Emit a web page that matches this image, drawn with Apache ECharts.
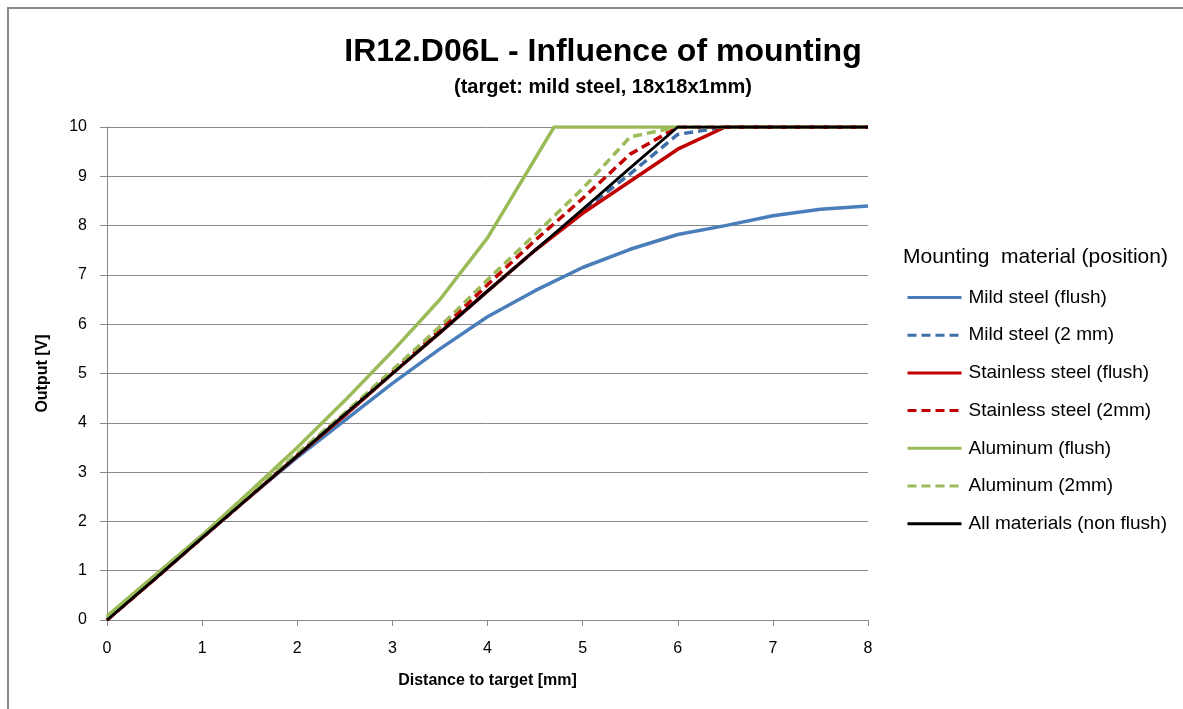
<!DOCTYPE html>
<html>
<head>
<meta charset="utf-8">
<script src="https://cdn.jsdelivr.net/npm/echarts@6/dist/echarts.min.js"></script>
<style>
  html, body { margin: 0; padding: 0; background: #fff; }
  #container { width: 1183px; height: 709px; }
</style>
</head>
<body>
<div id="container"></div>
<script>
// distances [mm]
var distances = [0, 0.5, 1, 1.5, 2, 2.5, 3, 3.5, 4, 4.5, 5, 5.5, 6, 6.5, 7, 7.5, 8];

var mildFlush      = [0.05, 0.85, 1.67, 2.5, 3.3, 4.05, 4.8, 5.5, 6.15, 6.68, 7.15, 7.52, 7.82, 8.0, 8.2, 8.33, 8.4];
var mild2mm        = [0, 0.83, 1.67, 2.5, 3.33, 4.15, 5.0, 5.83, 6.67, 7.5, 8.3, 9.05, 9.85, 10, 10, 10, 10];
var stainlessFlush = [0, 0.83, 1.67, 2.5, 3.33, 4.15, 5.0, 5.83, 6.67, 7.5, 8.25, 8.9, 9.55, 10, 10, 10, 10];
var stainless2mm   = [0, 0.83, 1.67, 2.5, 3.35, 4.18, 5.03, 5.88, 6.8, 7.7, 8.55, 9.45, 10, 10, 10, 10, 10];
var alu2mm         = [0.05, 0.85, 1.7, 2.53, 3.38, 4.2, 5.07, 5.95, 6.9, 7.82, 8.75, 9.8, 10, 10, 10, 10, 10];
var allNonFlush    = [0, 0.83, 1.67, 2.5, 3.33, 4.17, 5.0, 5.83, 6.67, 7.5, 8.33, 9.17, 10, 10, 10, 10, 10];

// aluminum flush saturates between sample points
var aluFlushX = [0, 0.5, 1, 1.5, 2, 2.5, 3, 3.5, 4, 4.7, 5, 5.5, 6];
var aluFlushY = [0.08, 0.9, 1.72, 2.6, 3.5, 4.45, 5.45, 6.5, 7.75, 10, 10, 10, 10];

function pairs(xs, ys) {
  return xs.map(function (x, i) { return [x, ys[i]]; });
}

var font = 'Liberation Sans';

function mkSeries(name, xs, ys, color, dashed, width) {
  return {
    name: name,
    type: 'line',
    data: pairs(xs, ys),
    symbol: 'none',
    smooth: false,
    lineStyle: { color: color, width: width || 3.5, type: dashed ? [9, 5] : 'solid' },
    itemStyle: { color: color }
  };
}

var series = [
  mkSeries('Mild steel (flush)', distances, mildFlush, '#4a7ebb', false),
  mkSeries('Mild steel (2 mm)', distances, mild2mm, '#3e6fa8', true),
  mkSeries('Stainless steel (flush)', distances, stainlessFlush, '#c00000', false),
  mkSeries('Stainless steel (2mm)', distances, stainless2mm, '#c00000', true),
  mkSeries('Aluminum (flush)', aluFlushX, aluFlushY, '#9bbb59', false),
  mkSeries('Aluminum (2mm)', distances, alu2mm, '#9bbb59', true),
  mkSeries('All materials (non flush)', distances, allNonFlush, '#000000', false, 2.8)
];

var myChart = echarts.init(document.getElementById('container'), null, { renderer: 'canvas' });

var option = {
  animation: false,
  backgroundColor: '#fff',
  title: {
    text: 'IR12.D06L - Influence of mounting',
    subtext: '(target: mild steel, 18x18x1mm)',
    left: 598,
    textAlign: 'center',
    top: 31,
    itemGap: 9,
    textStyle: { fontFamily: font, fontWeight: 'bold', fontSize: 32, color: '#000' },
    subtextStyle: { fontFamily: font, fontWeight: 'bold', fontSize: 20, color: '#000' }
  },
  graphic: [
    {
      type: 'rect',
      shape: { x: 8, y: 8, width: 1200, height: 720 },
      style: { fill: 'none', stroke: '#888', lineWidth: 2 },
      silent: true
    },
    {
      type: 'text',
      left: 903,
      top: 247,
      style: { text: 'Mounting  material (position)', font: '21px ' + font, fill: '#000' }
    }
  ],
  legend: {
    orient: 'vertical',
    left: 906,
    top: 288,
    padding: 0,
    itemWidth: 54,
    itemHeight: 14,
    itemGap: 18.7,
    itemStyle: { opacity: 0 },
    lineStyle: { width: 3 },
    textStyle: { fontFamily: font, fontSize: 19, lineHeight: 16, color: '#000', padding: [0, 0, 0, 2] },
    data: series.map(function (s) { return s.name; })
  },
  grid: { left: 107, right: 315, top: 127, bottom: 89 },
  xAxis: {
    type: 'value',
    min: 0,
    max: 8,
    interval: 1,
    name: 'Distance to target [mm]',
    nameLocation: 'middle',
    nameGap: 53,
    nameTextStyle: { fontFamily: font, fontWeight: 'bold', fontSize: 16, color: '#000' },
    axisLine: { lineStyle: { color: '#888', width: 1 } },
    axisTick: { show: true, length: 6, lineStyle: { color: '#888' } },
    axisLabel: { fontFamily: font, fontSize: 16, color: '#000', margin: 21 },
    splitLine: { show: false }
  },
  yAxis: {
    type: 'value',
    min: 0,
    max: 10,
    interval: 1,
    name: 'Output [V]',
    nameLocation: 'middle',
    nameGap: 56,
    nameRotate: 90,
    nameTextStyle: { fontFamily: font, fontWeight: 'bold', fontSize: 16, color: '#000' },
    axisLine: { show: true, lineStyle: { color: '#888', width: 1 } },
    axisTick: { show: true, length: 7, lineStyle: { color: '#888' } },
    axisLabel: { fontFamily: font, fontSize: 16, color: '#000', margin: 20 },
    splitLine: { show: true, lineStyle: { color: '#888', width: 1 } }
  },
  series: series
};

myChart.setOption(option);
</script>
</body>
</html>
